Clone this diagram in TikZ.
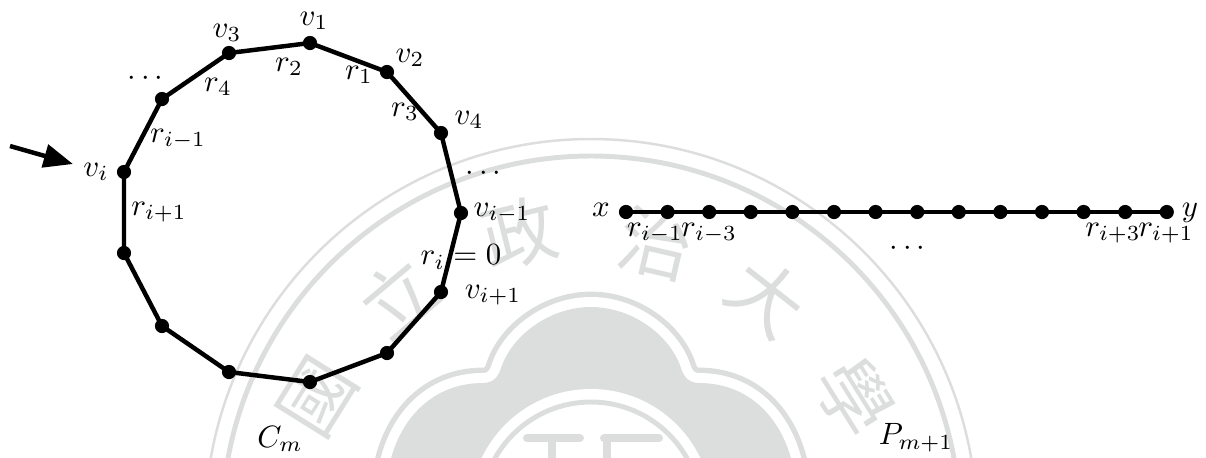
\documentclass[tikz,border=0pt]{standalone}
\usepackage{amsmath}
\usepackage{fontspec}
\usetikzlibrary{arrows.meta}
\newfontfamily\sealfont{Noto Sans CJK TC}
\definecolor{sealgray}{HTML}{DCDEDD}
\tikzset{
  vtx/.style={circle, fill=black, inner sep=0pt, minimum size=4.6pt},
  edge/.style={line width=1.45pt},
  lab/.style={inner sep=0pt, font=\fontsize{10.4}{12}\selectfont},
  sealchar/.style={inner sep=0pt, text=sealgray, font=\sealfont\fontsize{24}{24}\selectfont}
}
\begin{document}
\begin{tikzpicture}[x=0.0114cm, y=-0.0114cm, >={Stealth[inset=0pt,length=9.5pt,width=7.5pt]}]
  \useasboundingbox (0,0) rectangle (1206,457);

  % seal behind the figure
  \begin{scope}
    \clip (0,0) rectangle (1206,457);
    \draw[sealgray, line width=0.8pt] (591,525) circle (386);
    \draw[sealgray, line width=1.6pt] (591,525) circle (369);
    \def\cloud{(387,480) .. controls (392,430) and (425,383) .. (483,383)
      .. controls (492,383) and (498,378) .. (501,368)
      .. controls (512,335) and (550,307) .. (591,307)
      .. controls (632,307) and (670,335) .. (681,368)
      .. controls (684,378) and (690,383) .. (699,383)
      .. controls (757,383) and (790,430) .. (795,480) -- cycle}
    \draw[sealgray, line width=10pt, line join=round] \cloud;
    \draw[white, line width=6.5pt, line join=round] \cloud;
    \fill[sealgray] \cloud;
    \fill[white] (591,510) circle (121);
    \draw[sealgray, line width=1.6pt] (591,512) circle (110);
    \draw[sealgray, line width=2.6pt, line cap=round] (527,438) -- (580,438);
    \draw[sealgray, line width=2.6pt, line cap=round] (604,438) -- (659,438);
    \draw[sealgray, line width=2.9pt] (552,438) -- (552,460);
    \draw[sealgray, line width=2.9pt] (607,438) -- (607,460);
    \node[sealchar, rotate=58] (s1) at (318,397) {國};
    \node[sealchar, rotate=40] (s2) at (398,297) {立};
    \node[sealchar, rotate=14] (s3) at (520,233) {政};
    \node[sealchar, rotate=-13] (s4) at (656,243) {治};
    \node[sealchar, rotate=-38] (s5) at (767,297) {大};
    \node[sealchar, rotate=-58] (s6) at (855,397) {學};
  \end{scope}

  % cycle
  \node[vtx] (c1) at (310,43) {};
  \node[vtx] (c2) at (387,72) {};
  \node[vtx] (c3) at (441,133) {};
  \node[vtx] (c4) at (461,213) {};
  \node[vtx] (c5) at (441,292) {};
  \node[vtx] (c6) at (387,353) {};
  \node[vtx] (c7) at (310,382) {};
  \node[vtx] (c8) at (229,372) {};
  \node[vtx] (c9) at (162,326) {};
  \node[vtx] (c10) at (124,253) {};
  \node[vtx] (c11) at (124,172) {};
  \node[vtx] (c12) at (162,99) {};
  \node[vtx] (c13) at (229,53) {};
  \draw[edge] (c1.center) -- (c2.center) -- (c3.center) -- (c4.center) -- (c5.center)
    -- (c6.center) -- (c7.center) -- (c8.center) -- (c9.center) -- (c10.center)
    -- (c11.center) -- (c12.center) -- (c13.center) -- cycle;

  % path
  \foreach \i in {0,...,13} {
    \node[vtx] (p\i) at ({626+41.6*\i},212) {};
  }
  \draw[edge] (p0.center) -- (p13.center);

  % arrow
  \coordinate (atail) at (10,146);
  \coordinate (ahead) at (73,164);
  \draw[->, edge] (atail) -- (ahead);

  % cycle labels
  \node[lab] (v1) at (314,21) {$v_1$};
  \node[lab] (v2) at (410,58) {$v_2$};
  \node[lab] (v3) at (227,33) {$v_3$};
  \node[lab] (v4) at (469,120) {$v_4$};
  \node[lab] (vi) at (96,172) {$v_i$};
  \node[lab] (vim) at (502,213) {$v_{i-1}$};
  \node[lab] (vip) at (493,295) {$v_{i+1}$};
  \node[lab] (r1) at (359,75) {$r_1$};
  \node[lab] (r2) at (289,67) {$r_2$};
  \node[lab] (r3) at (405,112) {$r_3$};
  \node[lab] (r4) at (218,87) {$r_4$};
  \node[lab] (rim) at (178,139) {$r_{i-1}$};
  \node[lab] (rip) at (159,212) {$r_{i+1}$};
  \node[lab] (ri) at (461,257) {$r_i=0$};
  \node[lab] (dots1) at (148,79) {$\cdots$};
  \node[lab] (dots2) at (486,174) {$\cdots$};
  \node[lab] (cm) at (280,439) {$C_m$};

  % path labels
  \node[lab] (x) at (601,210) {$x$};
  \node[lab] (y) at (1190,213) {$y$};
  \node[lab] (q1) at (655,233) {$r_{i-1}$};
  \node[lab] (q2) at (709,233) {$r_{i-3}$};
  \node[lab] (q3) at (1113,233) {$r_{i+3}$};
  \node[lab] (q4) at (1166,233) {$r_{i+1}$};
  \node[lab] (dots3) at (910,249) {$\cdots$};
  \node[lab] (pm) at (916,438) {$P_{m+1}$};
\end{tikzpicture}
\end{document}
